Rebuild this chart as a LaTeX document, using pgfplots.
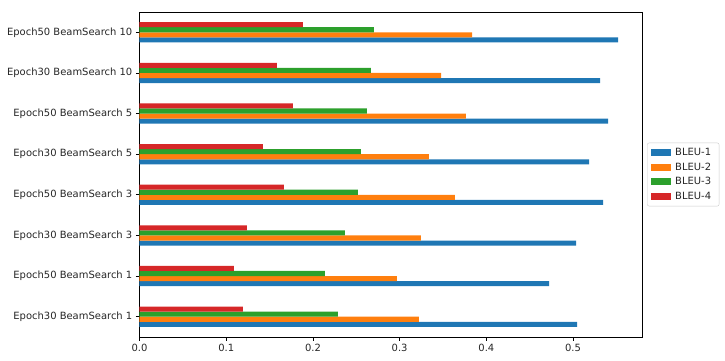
\documentclass[border=0pt]{standalone}
\usepackage{pgfplots}
\pgfplotsset{compat=1.18}
\usepackage{pgfplotstable}
\usepackage{fontspec}
\setmainfont{DejaVu Sans}
\definecolor{tabblue}{HTML}{1F77B4}
\definecolor{taborange}{HTML}{FF7F0E}
\definecolor{tabgreen}{HTML}{2CA02C}
\definecolor{tabred}{HTML}{D62728}
\pgfplotstableread{
idx b1 b2 b3 b4
0 0.5046 0.3223 0.2288 0.1192
1 0.4723 0.2969 0.2138 0.1088
2 0.5035 0.3246 0.2369 0.1238
3 0.5346 0.3638 0.2519 0.1665
4 0.5185 0.3338 0.2554 0.1423
5 0.5404 0.3765 0.2623 0.1769
6 0.5312 0.3477 0.2669 0.1585
7 0.5519 0.3835 0.2704 0.1885
}\datatable
\begin{document}
\begin{tikzpicture}
\begin{axis}[
  at={(0,0)}, anchor=south west,
  scale only axis, width=502.5bp, height=325bp,
  xmin=0, xmax=0.5795, ymin=-0.5, ymax=7.5,
  xbar, bar width=0.125,
  ytick={0,1,2,3,4,5,6,7},
  yticklabels={Epoch30 BeamSearch 1,Epoch50 BeamSearch 1,Epoch30 BeamSearch 3,Epoch50 BeamSearch 3,Epoch30 BeamSearch 5,Epoch50 BeamSearch 5,Epoch30 BeamSearch 10,Epoch50 BeamSearch 10},
  xtick={0,0.1,0.2,0.3,0.4,0.5},
  xticklabel style={/pgf/number format/fixed,/pgf/number format/fixed zerofill,/pgf/number format/precision=1},
  /pgf/number format/assume math mode=true,
  scaled x ticks=false,
  tick align=outside, tick pos=left,
  major tick length=3.5bp,
  every tick/.style={black, line width=0.8bp},
  axis line style={line width=0.8bp, black},
  tick label style={font=\fontsize{10}{12}\selectfont, text=black!85},
  xticklabel style={inner sep=0pt, yshift=-3.5bp},
  yticklabel style={inner sep=0pt, xshift=-3.5bp},
  legend style={at={(1.01,0.5)}, anchor=west, draw=black!20, rounded corners=2bp,
    font=\fontsize{10}{12}\selectfont, text=black!85, row sep=2bp,
    inner xsep=4bp, inner ysep=3bp,
    nodes={inner xsep=4bp}},
  legend cell align=left,
  legend image code/.code={\fill[#1, sharp corners] (0bp,-3.5bp) rectangle (20bp,3.5bp);},
]
\addplot[fill=tabblue, draw=none, bar shift=-0.1875] table[x=b1, y=idx] {\datatable};
\addplot[fill=taborange, draw=none, bar shift=-0.0625] table[x=b2, y=idx] {\datatable};
\addplot[fill=tabgreen, draw=none, bar shift=0.0625] table[x=b3, y=idx] {\datatable};
\addplot[fill=tabred, draw=none, bar shift=0.1875] table[x=b4, y=idx] {\datatable};
\legend{BLEU-1,BLEU-2,BLEU-3,BLEU-4}
\end{axis}
\pgfresetboundingbox
\path[use as bounding box] (-139.5bp,-24bp) rectangle (585.5bp,337bp);
\end{tikzpicture}
\end{document}
